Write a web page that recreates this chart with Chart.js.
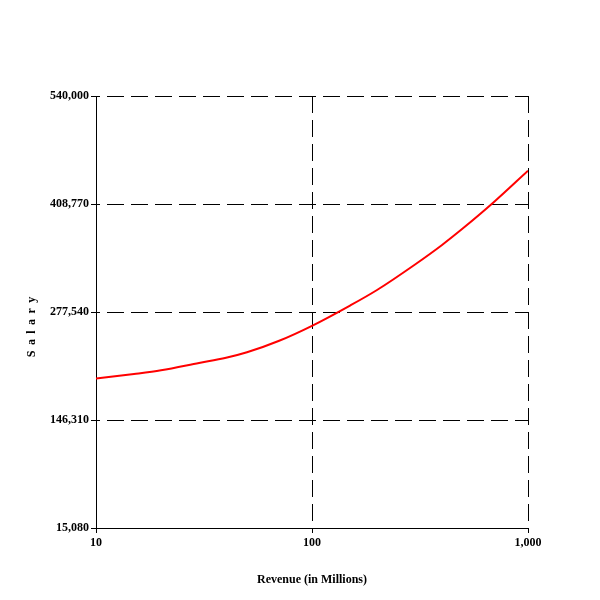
<!DOCTYPE html>
<html>
<head>
<meta charset="utf-8">
<script src="https://cdn.jsdelivr.net/npm/chart.js@4"></script>
<style>
  html, body { margin: 0; padding: 0; background: #fff; }
  canvas { display: block; }
</style>
</head>
<body>
<canvas id="salaryChart" width="600" height="600"></canvas>
<script>
// DATA
const revenue = [10, 15, 20, 30, 40, 50, 70, 100, 150, 200, 300, 400, 500, 700, 1000];
const salary = [196700, 202200, 206700, 215600, 221900, 228600, 242300, 260800,
  285400, 304300, 335300, 359000, 379200, 411800, 449200];

const xTicks = [10, 100, 1000];
const yTicks = [15080, 146310, 277540, 408770, 540000];

const fontBold = { family: 'Liberation Serif', size: 12, weight: 'bold' };
const fmt = v => Number(v).toLocaleString('en-US');

const points = revenue.map((r, i) => ({ x: r, y: salary[i] }));

const config = {
  type: 'line',
  data: {
    datasets: [{
      label: 'Salary',
      data: points,
      borderColor: '#ff0000',
      backgroundColor: '#ff0000',
      borderWidth: 2,
      pointRadius: 0,
      cubicInterpolationMode: 'monotone',
      fill: false
    }]
  },
  options: {
    responsive: false,
    animation: false,
    events: [],
    layout: { padding: { left: 0, right: 72, top: 96, bottom: 0 } },
    plugins: { legend: { display: false }, tooltip: { enabled: false } },
    scales: {
      x: {
        type: 'logarithmic',
        min: 10,
        max: 1000,
        afterBuildTicks: scale => { scale.ticks = xTicks.map(v => ({ value: v })); },
        afterFit: scale => { scale.height = 72; },
        ticks: {
          color: '#000',
          font: fontBold,
          padding: 3,
          maxRotation: 0,
          autoSkip: false,
          callback: v => fmt(v)
        },
        grid: { color: '#000', lineWidth: 1, tickLength: 5 },
        border: { color: '#000', width: 1, dash: [17, 7], dashOffset: 0 },
        title: {
          display: true,
          text: 'Revenue (in Millions)',
          color: '#000',
          font: fontBold,
          padding: { top: 0, bottom: 13 }
        }
      },
      y: {
        min: 15080,
        max: 540000,
        afterBuildTicks: scale => { scale.ticks = yTicks.map(v => ({ value: v })); },
        afterFit: scale => { scale.width = 96; },
        ticks: {
          color: '#000',
          font: fontBold,
          padding: 2,
          autoSkip: false,
          callback: v => fmt(v)
        },
        grid: { color: '#000', lineWidth: 1, tickLength: 5 },
        border: { color: '#000', width: 1, dash: [17, 7], dashOffset: 14 },
        title: {
          display: true,
          text: 'S \u2009a \u2009l \u2009a \u2009r \u2009y          ',
          color: '#000',
          font: fontBold,
          padding: { top: 25, bottom: 0 }
        }
      }
    }
  }
};

const myChart = new Chart(document.getElementById('salaryChart'), config);
</script>
</body>
</html>
